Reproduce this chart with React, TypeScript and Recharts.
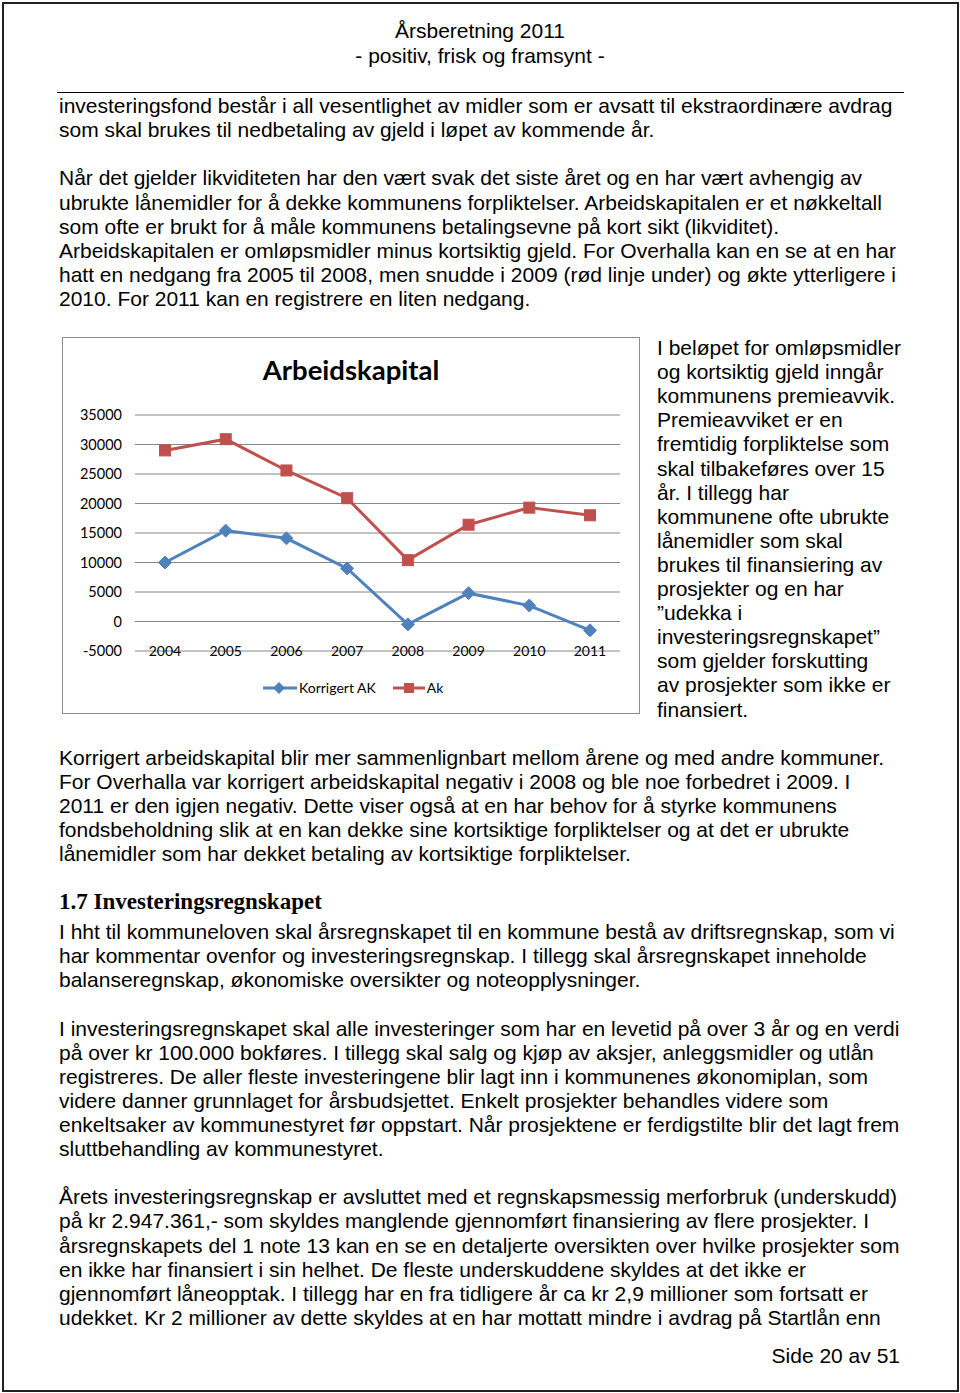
import { CartesianGrid, Line, LineChart, XAxis, YAxis } from "recharts";

const years = ["2004", "2005", "2006", "2007", "2008", "2009", "2010", "2011"];
const korrigertAk = [10000, 15400, 14100, 9000, -500, 4800, 2700, -1500];
const ak = [29000, 30900, 25600, 20900, 10400, 16400, 19300, 18000];
const yTicks = [-5000, 0, 5000, 10000, 15000, 20000, 25000, 30000, 35000];

const BLUE = "#4f81bd";
const RED = "#c0504d";
const chartFont = "Lato, 'Open Sans', sans-serif";
const bodyFont = "'Liberation Sans', Arial, sans-serif";

const data = years.map((year, i) => ({ year, korrigert: korrigertAk[i], ak: ak[i] }));

const topLines: [number, string][] = [
  [106, "investeringsfond består i all vesentlighet av midler som er avsatt til ekstraordinære avdrag"],
  [130, "som skal brukes til nedbetaling av gjeld i løpet av kommende år."],
  [178, "Når det gjelder likviditeten har den vært svak det siste året og en har vært avhengig av"],
  [203, "ubrukte lånemidler for å dekke kommunens forpliktelser. Arbeidskapitalen er et nøkkeltall"],
  [227, "som ofte er brukt for å måle kommunens betalingsevne på kort sikt (likviditet)."],
  [251, "Arbeidskapitalen er omløpsmidler minus kortsiktig gjeld. For Overhalla kan en se at en har"],
  [275, "hatt en nedgang fra 2005 til 2008, men snudde i 2009 (rød linje under) og økte ytterligere i"],
  [299, "2010. For 2011 kan en registrere en liten nedgang."],
];

const sideLines = [
  "I beløpet for omløpsmidler",
  "og kortsiktig gjeld inngår",
  "kommunens premieavvik.",
  "Premieavviket er en",
  "fremtidig forpliktelse som",
  "skal tilbakeføres over 15",
  "år. I tillegg har",
  "kommunene ofte ubrukte",
  "lånemidler som skal",
  "brukes til finansiering av",
  "prosjekter og en har",
  "”udekka i",
  "investeringsregnskapet”",
  "som gjelder forskutting",
  "av prosjekter som ikke er",
  "finansiert.",
];

const bottomLines: [number, string][] = [
  [758, "Korrigert arbeidskapital blir mer sammenlignbart mellom årene og med andre kommuner."],
  [782, "For Overhalla var korrigert arbeidskapital negativ i 2008 og ble noe forbedret i 2009. I"],
  [806, "2011 er den igjen negativ. Dette viser også at en har behov for å styrke kommunens"],
  [830, "fondsbeholdning slik at en kan dekke sine kortsiktige forpliktelser og at det er ubrukte"],
  [854, "lånemidler som har dekket betaling av kortsiktige forpliktelser."],
  [932, "I hht til kommuneloven skal årsregnskapet til en kommune bestå av driftsregnskap, som vi"],
  [956, "har kommentar ovenfor og investeringsregnskap. I tillegg skal årsregnskapet inneholde"],
  [980, "balanseregnskap, økonomiske oversikter og noteopplysninger."],
  [1029, "I investeringsregnskapet skal alle investeringer som har en levetid på over 3 år og en verdi"],
  [1053, "på over kr 100.000 bokføres. I tillegg skal salg og kjøp av aksjer, anleggsmidler og utlån"],
  [1077, "registreres. De aller fleste investeringene blir lagt inn i kommunenes økonomiplan, som"],
  [1101, "videre danner grunnlaget for årsbudsjettet. Enkelt prosjekter behandles videre som"],
  [1125, "enkeltsaker av kommunestyret før oppstart. Når prosjektene er ferdigstilte blir det lagt frem"],
  [1149, "sluttbehandling av kommunestyret."],
  [1197, "Årets investeringsregnskap er avsluttet med et regnskapsmessig merforbruk (underskudd)"],
  [1221, "på kr 2.947.361,- som skyldes manglende gjennomført finansiering av flere prosjekter. I"],
  [1246, "årsregnskapets del 1 note 13 kan en se en detaljerte oversikten over hvilke prosjekter som"],
  [1270, "en ikke har finansiert i sin helhet. De fleste underskuddene skyldes at det ikke er"],
  [1294, "gjennomført låneopptak. I tillegg har en fra tidligere år ca kr 2,9 millioner som fortsatt er"],
  [1318, "udekket. Kr 2 millioner av dette skyldes at en har mottatt mindre i avdrag på Startlån enn"],
];

function TextLine({ y, x = 59, children }: { y: number; x?: number; children: string }) {
  return (
    <div
      style={{
        position: "absolute",
        left: x,
        top: y - 12,
        fontSize: 21,
        lineHeight: "24px",
        whiteSpace: "nowrap",
        fontFamily: bodyFont,
        color: "#000",
      }}
    >
      {children}
    </div>
  );
}

const Diamond = (props: any) => {
  const { cx, cy } = props;
  if (cx == null || cy == null) return null;
  const r = 6.5;
  return (
    <polygon
      points={`${cx},${cy - r} ${cx + r},${cy} ${cx},${cy + r} ${cx - r},${cy}`}
      fill={BLUE}
      stroke={BLUE}
      strokeWidth={1}
    />
  );
};

const Square = (props: any) => {
  const { cx, cy } = props;
  if (cx == null || cy == null) return null;
  return <rect x={cx - 5.5} y={cy - 5.5} width={11} height={11} fill={RED} stroke={RED} strokeWidth={1} />;
};

const YearTick = (props: any) => {
  const { x, y, payload } = props;
  return (
    <text x={x} y={y} dy="0.35em" textAnchor="middle" fill="#000" fontSize={14} fontFamily={chartFont}>
      {payload.value}
    </text>
  );
};

function ArbeidskapitalChart() {
  return (
    <div
      style={{
        position: "absolute",
        left: 62,
        top: 337,
        width: 576,
        height: 375,
        border: "1px solid #8c8c8c",
        background: "#fff",
      }}
    >
      <div
        style={{
          position: "absolute",
          left: 0,
          width: 576,
          top: 15,
          textAlign: "center",
          fontFamily: chartFont,
          fontWeight: 700,
          fontSize: 27.5,
          color: "#000",
        }}
      >
        Arbeidskapital
      </div>
      <LineChart width={576} height={375} data={data} margin={{ top: 77, right: 19, bottom: 61, left: 0 }}>
        <CartesianGrid vertical={false} stroke="#868686" strokeWidth={1} />
        <XAxis
          dataKey="year"
          axisLine={false}
          tickLine={false}
          tickSize={0}
          tickMargin={0}
          height={1}
          padding={{ left: 30, right: 30 }}
          tick={<YearTick />}
          interval={0}
        />
        <YAxis
          domain={[-5000, 35000]}
          ticks={yTicks}
          width={72}
          axisLine={false}
          tickLine={false}
          tickSize={0}
          tickMargin={13}
          interval={0}
          tick={{ fill: "#000", fontSize: 14.5, fontFamily: chartFont }}
        />
        <Line
          dataKey="korrigert"
          name="Korrigert AK"
          stroke={BLUE}
          strokeWidth={3}
          dot={<Diamond />}
          isAnimationActive={false}
        />
        <Line dataKey="ak" name="Ak" stroke={RED} strokeWidth={3} dot={<Square />} isAnimationActive={false} />
      </LineChart>
      <div
        style={{
          position: "absolute",
          top: 341,
          left: 199,
          display: "flex",
          alignItems: "center",
          fontFamily: chartFont,
          fontSize: 14,
          color: "#000",
        }}
      >
        <svg width={36} height={14}>
          <line x1={1} y1={7} x2={35} y2={7} stroke={BLUE} strokeWidth={3} />
          <polygon points="17,1 23,7 17,13 11,7" fill={BLUE} />
        </svg>
        <span style={{ marginLeft: 1, marginRight: 16 }}>Korrigert AK</span>
        <svg width={34} height={14}>
          <line x1={1} y1={7} x2={33} y2={7} stroke={RED} strokeWidth={3} />
          <rect x={12} y={2} width={10} height={10} fill={RED} />
        </svg>
        <span style={{ marginLeft: 1 }}>Ak</span>
      </div>
    </div>
  );
}

export default function App() {
  return (
    <div
      style={{
        position: "absolute",
        left: 0,
        top: 0,
        width: 960,
        height: 1393,
        background: "#fff",
        fontFamily: bodyFont,
      }}
    >
      <div
        style={{
          position: "absolute",
          left: 2,
          top: 2,
          width: 953,
          height: 1386,
          border: "2px solid #222",
        }}
      />
      <div
        style={{
          position: "absolute",
          left: 0,
          width: 960,
          top: 18,
          textAlign: "center",
          fontSize: 21,
          lineHeight: "25px",
          fontFamily: bodyFont,
        }}
      >
        Årsberetning 2011
        <br />- positiv, frisk og framsynt -
      </div>
      <div style={{ position: "absolute", left: 57, top: 92, width: 847, height: 1, background: "#000" }} />

      {topLines.map(([y, t]) => (
        <TextLine key={y} y={y}>
          {t}
        </TextLine>
      ))}

      <ArbeidskapitalChart />

      {sideLines.map((t, i) => (
        <TextLine key={t} y={348 + i * 24.1} x={657}>
          {t}
        </TextLine>
      ))}

      {bottomLines.map(([y, t]) => (
        <TextLine key={y} y={y}>
          {t}
        </TextLine>
      ))}

      <div
        style={{
          position: "absolute",
          left: 59,
          top: 888,
          fontFamily: "'Liberation Serif', 'DejaVu Serif', serif",
          fontWeight: 700,
          fontSize: 23,
          lineHeight: "28px",
          whiteSpace: "nowrap",
        }}
      >
        1.7 Investeringsregnskapet
      </div>

      <div
        style={{
          position: "absolute",
          right: 60,
          top: 1344,
          fontSize: 21,
          lineHeight: "24px",
          whiteSpace: "nowrap",
        }}
      >
        Side 20 av 51
      </div>
    </div>
  );
}
